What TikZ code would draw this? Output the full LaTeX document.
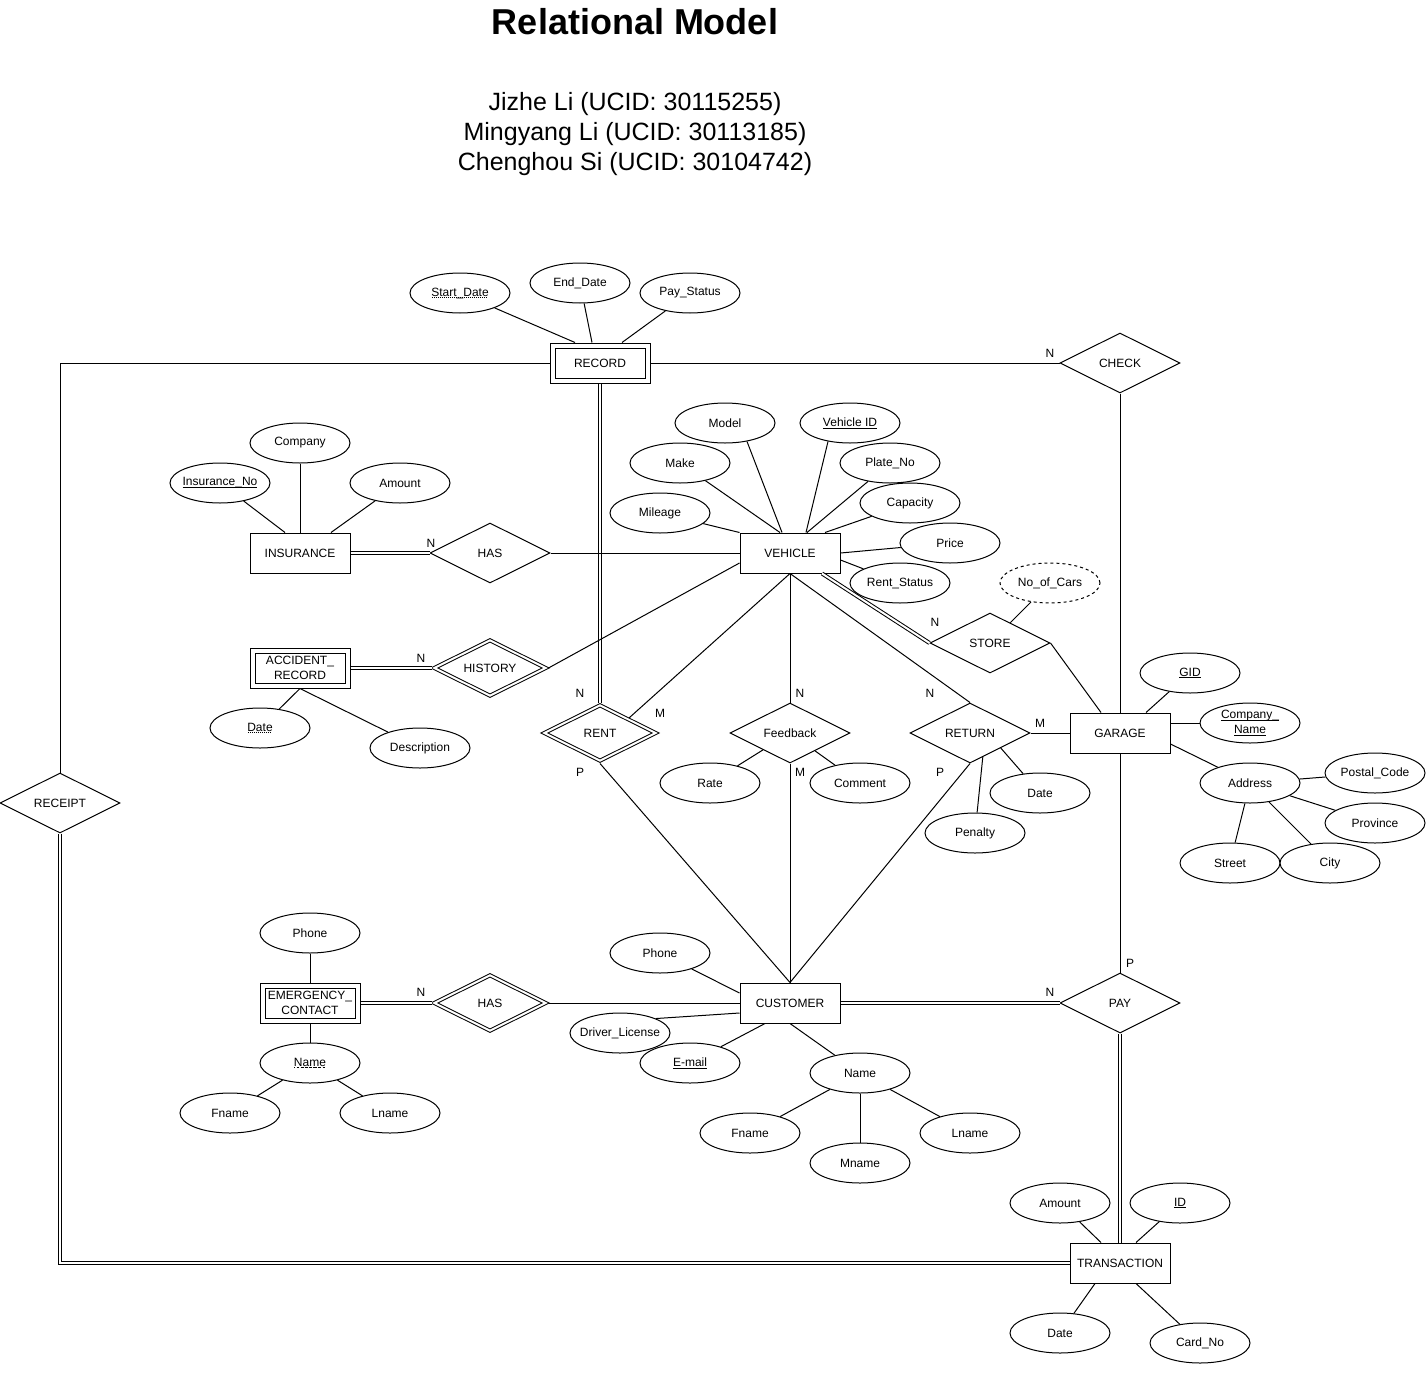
\documentclass[tikz,border=0pt]{standalone}
\usepackage{fontspec}
\setmainfont{Liberation Sans}
\usetikzlibrary{shapes.geometric}

% key and partial key underlines
\newsavebox\ulbox
\newcommand{\keyul}[1]{\sbox\ulbox{#1}\rlap{\usebox\ulbox}\lower2pt\hbox{\vrule width\wd\ulbox height 0.8pt depth 0pt}}
\newcommand{\partul}[1]{\sbox\ulbox{#1}\rlap{\usebox\ulbox}\lower2pt\hbox to\wd\ulbox{\leaders\hbox to 2pt{\hss\vrule width 1pt height 0.8pt depth 0pt\hss}\hfill}}

\begin{document}
\begin{tikzpicture}[x=1pt, y=-1pt, line width=1pt, font=\fontsize{12}{15}\selectfont,
    entity/.style={rectangle, draw, fill=white, minimum width=100pt, minimum height=40pt, inner sep=0pt, align=center},
    weakentity/.style={entity, double, double distance=4pt, minimum width=95pt, minimum height=35pt, outer sep=3pt},
    attr/.style={ellipse, draw, fill=white, minimum width=100pt, minimum height=40pt, inner sep=0pt, inner xsep=-15pt, align=center},
    derived/.style={attr, dash pattern=on 3pt off 3pt},
    rel/.style={diamond, draw, fill=white, aspect=2, minimum width=120pt, minimum height=60pt, inner sep=0pt},
    weakrel/.style={rel, double, double distance=2pt, minimum width=113pt, minimum height=57pt, outer sep=2pt},
    total/.style={double, double distance=2pt},
    card/.style={inner sep=0pt}]
  \useasboundingbox (0,0) rectangle (1426,1373);
  \node (title) at (635,22) {\fontsize{36}{43}\selectfont\bfseries Relational Model};
  \node (authors) [align=center, font=\fontsize{25}{30}\selectfont] at (635,134) {Jizhe Li (UCID: 30115255)\\Mingyang Li (UCID: 30113185)\\Chenghou Si (UCID: 30104742)};

  % entities
  \node (record) [weakentity] at (600,363) {RECORD};
  \node (insurance) [entity] at (300,553) {INSURANCE};
  \node (accident) [weakentity] at (300,668) {ACCIDENT\_\\RECORD};
  \node (vehicle) [entity] at (790,553) {VEHICLE};
  \node (garage) [entity] at (1120,733) {GARAGE};
  \node (emergency) [weakentity] at (310,1003) {EMERGENCY\_\\CONTACT};
  \node (customer) [entity] at (790,1003) {CUSTOMER};
  \node (transaction) [entity] at (1120,1263) {TRANSACTION};

  % relationships
  \node (hasins) [rel] at (490,553) {HAS};
  \node (history) [weakrel] at (490,668) {HISTORY};
  \node (rent) [weakrel] at (600,733) {RENT};
  \node (feedback) [rel] at (790,733) {Feedback};
  \node (return) [rel] at (970,733) {RETURN};
  \node (store) [rel] at (990,643) {STORE};
  \node (check) [rel] at (1120,363) {CHECK};
  \node (receipt) [rel] at (60,803) {RECEIPT};
  \node (hasemg) [weakrel] at (490,1003) {HAS};
  \node (pay) [rel] at (1120,1003) {PAY};

  % attributes
  \node (startdate) [attr] at (460,293) {\partul{Start\_Date}};
  \node (enddate) [attr] at (580,283) {End\_Date};
  \node (paystatus) [attr] at (690,293) {Pay\_Status};
  \node (inscompany) [attr] at (300,443) {Company};
  \node (insno) [attr] at (220,483) {\keyul{Insurance\_No}};
  \node (insamount) [attr] at (400,483) {Amount};
  \node (accdate) [attr] at (260,728) {\partul{Date}};
  \node (accdesc) [attr] at (420,748) {Description};
  \node (model) [attr] at (725,423) {Model};
  \node (vehicleid) [attr] at (850,423) {\keyul{Vehicle ID}};
  \node (make) [attr] at (680,463) {Make};
  \node (plateno) [attr] at (890,463) {Plate\_No};
  \node (mileage) [attr] at (660,513) {Mileage};
  \node (capacity) [attr] at (910,503) {Capacity};
  \node (price) [attr] at (950,543) {Price};
  \node (rentstatus) [attr] at (900,583) {Rent\_Status};
  \node (nocars) [derived] at (1050,583) {No\_of\_Cars};
  \node (rate) [attr] at (710,783) {Rate};
  \node (comment) [attr] at (860,783) {Comment};
  \node (penalty) [attr] at (975,833) {Penalty};
  \node (retdate) [attr] at (1040,793) {Date};
  \node (gid) [attr] at (1190,673) {\keyul{GID}};
  \node (gcompany) [attr] at (1250,723) {\keyul{Company\_}\\\keyul{Name}};
  \node (address) [attr] at (1250,783) {Address};
  \node (postal) [attr] at (1375,773) {Postal\_Code};
  \node (province) [attr] at (1375,823) {Province};
  \node (street) [attr] at (1230,863) {Street};
  \node (city) [attr] at (1330,863) {City};
  \node (emgphone) [attr] at (310,933) {Phone};
  \node (emgname) [attr] at (310,1063) {\partul{Name}};
  \node (emgfname) [attr] at (230,1113) {Fname};
  \node (emglname) [attr] at (390,1113) {Lname};
  \node (cusphone) [attr] at (660,953) {Phone};
  \node (license) [attr] at (620,1033) {Driver\_License};
  \node (email) [attr] at (690,1063) {\keyul{E-mail}};
  \node (cusname) [attr] at (860,1073) {Name};
  \node (cusfname) [attr] at (750,1133) {Fname};
  \node (cusmname) [attr] at (860,1163) {Mname};
  \node (cuslname) [attr] at (970,1133) {Lname};
  \node (tamount) [attr] at (1060,1203) {Amount};
  \node (tid) [attr] at (1180,1203) {\keyul{ID}};
  \node (tdate) [attr] at (1060,1333) {Date};
  \node (cardno) [attr] at (1200,1343) {Card\_No};

  % cardinalities
  \node (nhasins) [card] at (431,543) {N};
  \node (nhistory) [card] at (421,658) {N};
  \node (nrent) [card] at (580,693) {N};
  \node (mrent) [card] at (660,713) {M};
  \node (prent) [card] at (580,772) {P};
  \node (nfeed) [card] at (800,693) {N};
  \node (mfeed) [card] at (800,772) {M};
  \node (nreturn) [card] at (930,693) {N};
  \node (preturn) [card] at (940,772) {P};
  \node (mreturn) [card] at (1040,723) {M};
  \node (nstore) [card] at (935,622) {N};
  \node (ncheck) [card] at (1050,353) {N};
  \node (nhasemg) [card] at (421,992) {N};
  \node (npay) [card] at (1050,992) {N};
  \node (ppay) [card] at (1130,963) {P};

  % record
  \draw (startdate) -- ([xshift=-25pt]record.north);
  \draw (enddate) -- ([xshift=-8pt]record.north);
  \draw (paystatus) -- ([xshift=22pt]record.north);
  \draw (record) -- (check);
  \draw (check) -- (garage);
  \draw (record.west) -| (receipt.north);
  \draw [total] (receipt.south) |- (transaction.west);
  \draw [total] (record) -- (rent);

  % insurance and accident record
  \draw (insno) -- ([xshift=-15pt]insurance.north);
  \draw (inscompany) -- (insurance);
  \draw (insamount) -- ([xshift=31pt]insurance.north);
  \draw [total] (insurance) -- (hasins);
  \draw (hasins) -- (vehicle);
  \draw (accdate) -- (accident.south);
  \draw (accdesc) -- (accident.south);
  \draw [total] (accident) -- (history);
  \draw ([yshift=-10pt]vehicle.west) -- (history.east);

  % vehicle
  \draw (model.-40) -- ([xshift=-8pt]vehicle.north);
  \draw (vehicleid.-140) -- ([xshift=16pt]vehicle.north);
  \draw (make) -- ([xshift=-10pt]vehicle.north);
  \draw (plateno) -- ([xshift=17pt]vehicle.north);
  \draw (mileage) -- (vehicle.north west);
  \draw (capacity) -- ([xshift=35pt]vehicle.north);
  \draw (price) -- (vehicle.east);
  \draw (rentstatus) -- ([yshift=-7pt]vehicle.east);
  \draw (vehicle.south) -- (rent.north east);
  \draw (vehicle) -- (feedback);
  \draw (vehicle.south) -- (return.north);
  \draw [total] ([xshift=32pt]vehicle.south) -- (store.west);
  \draw (nocars) -- (store);
  \draw (store.east) -- ([xshift=-19pt]garage.north);

  % rent, feedback, return
  \draw (rent.south) -- (customer.north);
  \draw (feedback) -- (customer);
  \draw (return.south) -- (customer.north);
  \draw (return) -- (garage);
  \draw (rate) -- (feedback);
  \draw (comment) -- (feedback);
  \draw (return.-62) -- (penalty);
  \draw (return.-26) -- (retdate);

  % garage
  \draw (gid) -- ([xshift=26pt]garage.north);
  \draw (gcompany) -- ([yshift=10pt]garage.east);
  \draw (address) -- ([yshift=-11pt]garage.east);
  \draw (address) -- (postal);
  \draw (address) -- (province);
  \draw (address) -- (street);
  \draw (address) -- (city);
  \draw (garage) -- (pay);

  % emergency contact
  \draw (emgphone) -- (emergency);
  \draw (emgname) -- (emergency);
  \draw (emgname) -- (emgfname);
  \draw (emgname) -- (emglname);
  \draw [total] (emergency) -- (hasemg);
  \draw (hasemg) -- (customer);

  % customer
  \draw (cusphone) -- ([yshift=10pt]customer.west);
  \draw (license.22) -- ([yshift=-10pt]customer.west);
  \draw (email) -- ([xshift=-25pt]customer.south);
  \draw (cusname) -- (customer.south);
  \draw (cusname) -- (cusfname);
  \draw (cusname) -- (cusmname);
  \draw (cusname) -- (cuslname);
  \draw [total] (customer) -- (pay);

  % transaction
  \draw [total] (pay) -- (transaction);
  \draw (tamount) -- ([xshift=-19pt]transaction.north);
  \draw (tid) -- ([xshift=16pt]transaction.north);
  \draw (tdate) -- ([xshift=-25pt]transaction.south);
  \draw (cardno) -- ([xshift=16pt]transaction.south);
\end{tikzpicture}
\end{document}
